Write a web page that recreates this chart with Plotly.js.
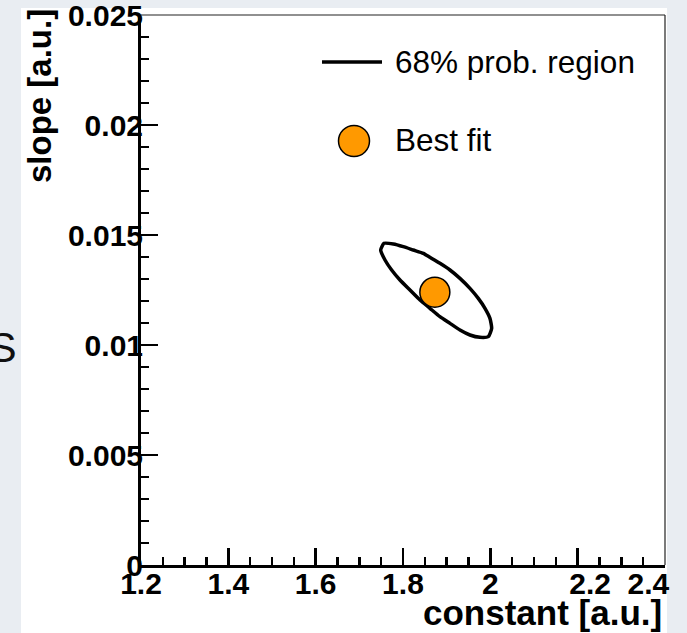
<!DOCTYPE html>
<html>
<head>
<meta charset="utf-8">
<script src="https://cdn.plot.ly/plotly-3.0.1.min.js"></script>
<style>
html,body{margin:0;padding:0;background:#e9edf2;}
#chart{width:687px;height:633px;}
</style>
</head>
<body>
<div id="chart"></div>
<script>
// ---- data ----
const contourConstant = [1.7489,1.7565,1.7779,1.8007,1.8236,1.8466,1.8618,1.8847,1.9076,1.9305,1.9534,1.9725,1.9878,1.9992,2.0031,1.9954,1.9763,1.9534,1.9305,1.9076,1.8847,1.8618,1.8389,1.8160,1.7931,1.7740,1.7588,1.7489];
const contourSlope = [0.014318,0.014621,0.014591,0.014470,0.014318,0.014167,0.013985,0.013712,0.013409,0.013030,0.012576,0.012121,0.011667,0.011212,0.010758,0.010379,0.010348,0.010455,0.010682,0.010985,0.011288,0.011667,0.012045,0.012500,0.012955,0.013409,0.013864,0.014318];
const bestFitConstant = [1.873];
const bestFitSlope = [0.0124];
const seriesNames = ["68% prob. region", "Best fit"];
const xTickVals = [1.2,1.4,1.6,1.8,2.0,2.2,2.4];
const xTickText = ["1.2","1.4","1.6","1.8","2","\u00a0\u00a0\u00a02.2","2.4\u00a0\u00a0\u00a0\u00a0"];
const yTickVals = [0,0.005,0.01,0.015,0.02,0.025];
const yTickText = ["0","0.005","0.01","0.015","0.02","0.025"];
const xTitle = "constant [a.u.]";
const yTitle = "slope [a.u.]";

// ---- layout helpers (pixel -> paper) ----
const W = 687, H = 633, L = 141, R = 22, T = 15, B = 68;
const PW = W - L - R, PH = H - T - B;
const px = v => (v - L) / PW;
const py = v => (H - B - v) / PH;
const orange = "#ff9900";
const tickFont = {family: "Liberation Sans, Arial, sans-serif", size: 30, color: "#000", weight: "bold"};

const traces = [
  {x: contourConstant, y: contourSlope, mode: "lines", name: seriesNames[0],
   line: {color: "#000", width: 3.5, shape: "spline", smoothing: 0.5}, showlegend: false, hoverinfo: "skip"},
  {x: bestFitConstant, y: bestFitSlope, mode: "markers", name: seriesNames[1],
   marker: {color: orange, size: 30, line: {color: "#000", width: 1.5}}, showlegend: false, hoverinfo: "skip"}
];

const layout = {
  width: W, height: H,
  margin: {l: L, r: R, t: T, b: B, pad: 0},
  paper_bgcolor: "#e9edf2",
  plot_bgcolor: "#ffffff",
  showlegend: false,
  xaxis: {
    range: [1.2, 2.4001], tickmode: "array", tickvals: xTickVals, ticktext: xTickText,
    ticks: "inside", ticklen: 17, tickwidth: 2.5, tickcolor: "#000",
    minor: {dtick: 0.05, tick0: 1.2, ticks: "inside", ticklen: 8, tickwidth: 2.5, tickcolor: "#000", showgrid: false},
    showline: true, linewidth: 3, linecolor: "#000", showgrid: false, zeroline: false,
    tickfont: tickFont, ticklabelstandoff: -10, ticklabeloverflow: "allow", fixedrange: true
  },
  yaxis: {
    range: [0, 0.025001], tickmode: "array", tickvals: yTickVals, ticktext: yTickText,
    ticks: "inside", ticklen: 17, tickwidth: 2.5, tickcolor: "#000",
    minor: {dtick: 0.001, tick0: 0, ticks: "inside", ticklen: 8, tickwidth: 2.5, tickcolor: "#000", showgrid: false},
    showline: true, linewidth: 3, linecolor: "#000", showgrid: false, zeroline: false,
    tickfont: tickFont, ticklabelstandoff: -11, ticklabeloverflow: "allow", fixedrange: true
  },
  shapes: [
    // white page area behind the chart
    {type: "rect", xref: "paper", yref: "paper", x0: px(21), x1: px(667), y0: py(645), y1: py(8),
     fillcolor: "#ffffff", line: {width: 0}, layer: "below"},
    // thin frame on top and right
    {type: "line", xref: "paper", yref: "paper", x0: 0, x1: 1, y0: 1, y1: 1, line: {color: "#222", width: 1.2}},
    {type: "line", xref: "paper", yref: "paper", x0: 1, x1: 1, y0: 0, y1: 1, line: {color: "#222", width: 1.2}},
    // legend symbols
    {type: "line", xref: "paper", yref: "paper", x0: px(322), x1: px(382), y0: py(62), y1: py(62),
     line: {color: "#000", width: 3.5}},
    {type: "circle", xref: "paper", yref: "paper", xsizemode: "pixel", ysizemode: "pixel",
     xanchor: px(354), yanchor: py(141), x0: -15.5, x1: 15.5, y0: -15.5, y1: 15.5,
     fillcolor: orange, line: {color: "#000", width: 1.5}}
  ],
  annotations: [
    {text: seriesNames[0], xref: "paper", yref: "paper", x: px(393), y: py(62), xanchor: "left", yanchor: "middle",
     showarrow: false, font: {family: "Liberation Sans, Arial, sans-serif", size: 31.5, color: "#000"}},
    {text: seriesNames[1], xref: "paper", yref: "paper", x: px(393), y: py(140), xanchor: "left", yanchor: "middle",
     showarrow: false, font: {family: "Liberation Sans, Arial, sans-serif", size: 31.5, color: "#000"}},
    {text: xTitle, xref: "paper", yref: "paper", x: px(664), y: py(612), xanchor: "right", yanchor: "middle",
     showarrow: false, font: {family: "Liberation Sans, Arial, sans-serif", size: 35, color: "#000", weight: "bold"}},
    {text: yTitle, xref: "paper", yref: "paper", x: px(40), y: py(96), xanchor: "center", yanchor: "middle", textangle: -90,
     showarrow: false, font: {family: "Liberation Sans, Arial, sans-serif", size: 33, color: "#000", weight: "bold"}},
    {text: "S", xref: "paper", yref: "paper", x: px(19), y: py(347), xanchor: "right", yanchor: "middle",
     showarrow: false, font: {family: "Liberation Sans, Arial, sans-serif", size: 43, color: "#111"}}
  ]
};

Plotly.newPlot("chart", traces, layout, {staticPlot: true, displayModeBar: false});
</script>
</body>
</html>
